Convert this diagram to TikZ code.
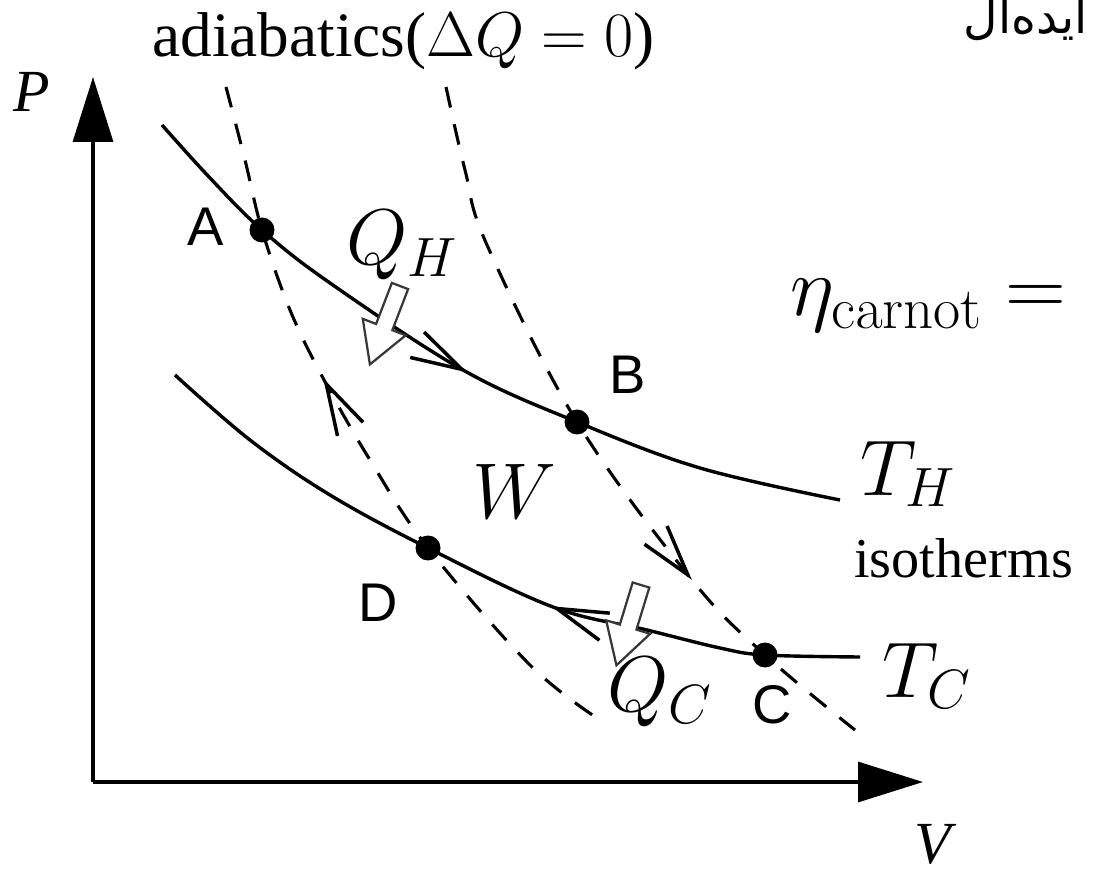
\RequirePackage{fix-cm}
\documentclass[tikz,border=0pt]{standalone}
\usepackage[no-math]{fontspec}
\setmainfont{Liberation Serif}
\setsansfont{Liberation Sans}
\newfontfamily\arabicfont[Script=Arabic]{DejaVu Sans}
\TeXXeTstate=1
\usetikzlibrary{arrows.meta,decorations.markings}

\begin{document}
\begin{tikzpicture}[x=0.02cm,y=-0.02cm,
    every node/.style={inner sep=0pt},
    isotherm/.style={line width=0.068cm},
    adiabat/.style={line width=0.062cm,dash pattern=on 0.42cm off 0.34cm},
    flow/.style={postaction={decorate,decoration={markings,
        mark=at position #1 with {\arrow{Straight Barb[length=1.02cm,width=0.58cm,line width=0.07cm]}}}}},
    backflow/.style={postaction={decorate,decoration={markings,
        mark=at position #1 with {\arrowreversed{Straight Barb[length=1.02cm,width=0.58cm,line width=0.07cm]}}}}},
    axis/.style={line width=0.065cm,-{Triangle[length=1.3cm,width=0.8cm]}},
    heat/.style={draw=black!78,line width=0.045cm,fill=white},
    state/.style={circle,fill=black,minimum size=0.5cm},
    statelbl/.style={font=\sffamily\fontsize{31}{31}\selectfont},
    mathlbl/.style={font=\fontsize{45}{45}\selectfont},
    txtlbl/.style={font=\fontsize{34}{34}\selectfont}]
  \useasboundingbox (0,0) rectangle (1098,874);

  % axes
  \coordinate (O) at (93,782);
  \coordinate (Ptip) at (93,77);
  \coordinate (Vtip) at (923,782);
  \draw[axis] (O) -- (Ptip);
  \draw[axis] (O) -- (Vtip);

  % corners of the cycle
  \coordinate (A) at (262,230);
  \coordinate (B) at (577,422);
  \coordinate (C) at (765,655);
  \coordinate (D) at (428,548);

  % isotherms
  \draw[isotherm,flow=0.5] plot[smooth,tension=0.6] coordinates
    {(162,125) (210,178) (A) (330,283) (463,370) (B) (700,468) (840,500)};
  \draw[isotherm,backflow=0.585] plot[smooth,tension=0.6] coordinates
    {(175,375) (250,440) (330,495) (D) (553,607) (647,630) (720,648) (C) (860,657)};

  % adiabats
  \draw[adiabat,backflow=0.41] plot[smooth,tension=0.6] coordinates
    {(226,87) (245,160) (A) (290,310) (323,378) (370,460) (D) (530,665) (600,720)};
  \draw[adiabat,flow=0.715] plot[smooth,tension=0.6] coordinates
    {(446,87) (465,170) (487,245) (B) (692,580) (C) (855,730)};

  % heat in and out
  \begin{scope}[shift={(400,286)},rotate=249]
    \draw[heat] (0,-8.7) -- (44,-8.7) -- (44,-23) -- (84,0) -- (44,23) -- (44,8.7) -- (0,8.7) -- cycle;
  \end{scope}
  \begin{scope}[shift={(641,585)},rotate=253]
    \draw[heat] (0,-8.7) -- (44,-8.7) -- (44,-23) -- (84,0) -- (44,23) -- (44,8.7) -- (0,8.7) -- cycle;
  \end{scope}

  \foreach \s in {A,B,C,D}
    \node[state] (dot\s) at (\s) {};

  % labels
  \node[statelbl] (lblA) at (206,227) {A};
  \node[statelbl] (lblB) at (628,375) {B};
  \node[statelbl] (lblC) at (772,705) {C};
  \node[statelbl] (lblD) at (378,603) {D};

  \node[txtlbl] (lblP) at (32,92) {\textit{P}};
  \node[txtlbl] (lblV) at (936,844) {\textit{V}};
  \node[txtlbl,anchor=base west,font=\fontsize{36}{36}\selectfont] (adia) at (152,57)
    {adiabatics($\Delta Q = 0$)};
  \node[txtlbl,anchor=base west,font=\fontsize{32}{32}\selectfont] (iso) at (854,577) {isotherms};
  \node[anchor=base east,font=\arabicfont\fontsize{27}{27}\selectfont] (ideal) at (1088,34)
    {\beginR ایده^^^^200cال\endR};

  \node[mathlbl] (QH) at (402,245) {$Q_H$};
  \node[mathlbl] (QC) at (660,692) {$Q_C$};
  \node[mathlbl] (W) at (514,491) {$W$};
  \node[mathlbl] (TH) at (908,474) {$T_H$};
  \node[mathlbl] (TC) at (927,676) {$T_C$};
  \node[mathlbl,anchor=base west,font=\fontsize{48}{48}\selectfont] (eta) at (790,316)
    {$\eta_{\mathrm{carnot}} =$};
\end{tikzpicture}
\end{document}
